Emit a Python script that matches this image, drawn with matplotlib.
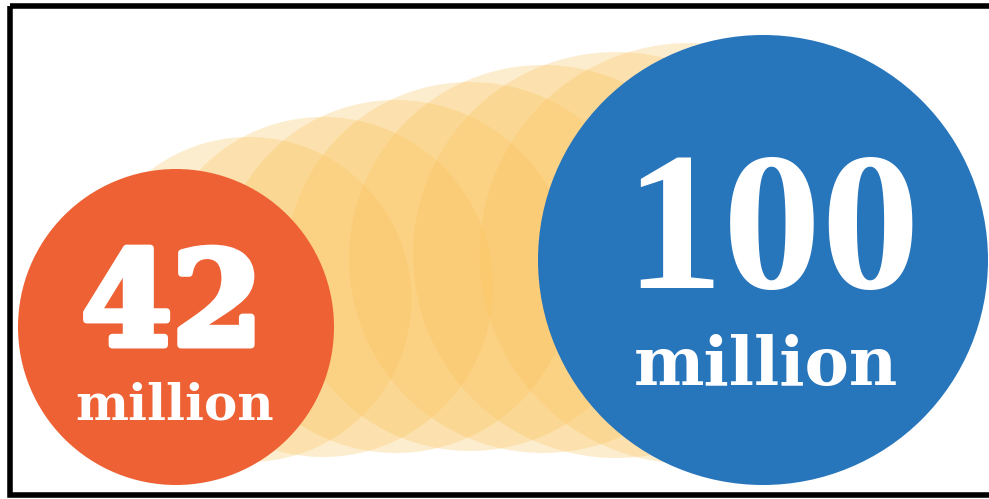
import matplotlib.pyplot as plt
import matplotlib.patheffects as pe
from matplotlib.patches import Circle, Rectangle

W, H = 989, 499

# --- data ---
values = [42, 100]
numbers = ['42', '100']
unit = 'million'

# --- layout (pixel coords, y down) ---
big_cx = [176, 763]
big_cy = [327, 260]
big_r = [158, 225]
big_colors = ['#EE6134', '#2775BB']

# faded circles in between: centre x, top edge, bottom edge
step_cx = [249, 323, 396, 470, 543, 616, 690]
step_top = [137, 117, 100, 82, 65, 52, 43]
step_bot = [462, 457, 453, 451, 453, 458, 464]

fig = plt.figure(figsize=(W / 100, H / 100), dpi=100)
ax = fig.add_axes([0, 0, 1, 1])
ax.set_xlim(0, W)
ax.set_ylim(H, 0)
ax.axis('off')

for cx, t, b in zip(step_cx, step_top, step_bot):
    ax.add_patch(Circle((cx, (t + b) / 2), (b - t) / 2,
                        facecolor='#FBC35A', alpha=0.29, lw=0, zorder=1))

for cx, cy, r, c in zip(big_cx, big_cy, big_r, big_colors):
    ax.add_patch(Circle((cx, cy), r, facecolor=c, lw=0, zorder=3))

# labels
heavy = [pe.withStroke(linewidth=5, foreground='white')]
ax.text(172, 345, numbers[0], ha='center', va='baseline', color='white',
        fontsize=94, fontweight='bold', family='DejaVu Serif', zorder=4,
        path_effects=heavy)
ax.text(175, 420, unit, ha='center', va='baseline', color='white',
        fontsize=36, fontweight='bold', family='DejaVu Serif', zorder=4)
ax.text(772, 288, numbers[1], ha='center', va='baseline', color='white',
        fontsize=142, fontweight='bold',
        family=['Liberation Serif', 'DejaVu Serif'], zorder=4)
ax.text(766, 385, unit, ha='center', va='baseline', color='white',
        fontsize=48, fontweight='bold', family='DejaVu Serif', zorder=4)

# black frame (right side cut off)
ax.add_patch(Rectangle((10, 5.5), 995, 489.5, fill=False, ec='black',
                       lw=4, zorder=5, clip_on=False))

fig.savefig('out.png', dpi=100)
